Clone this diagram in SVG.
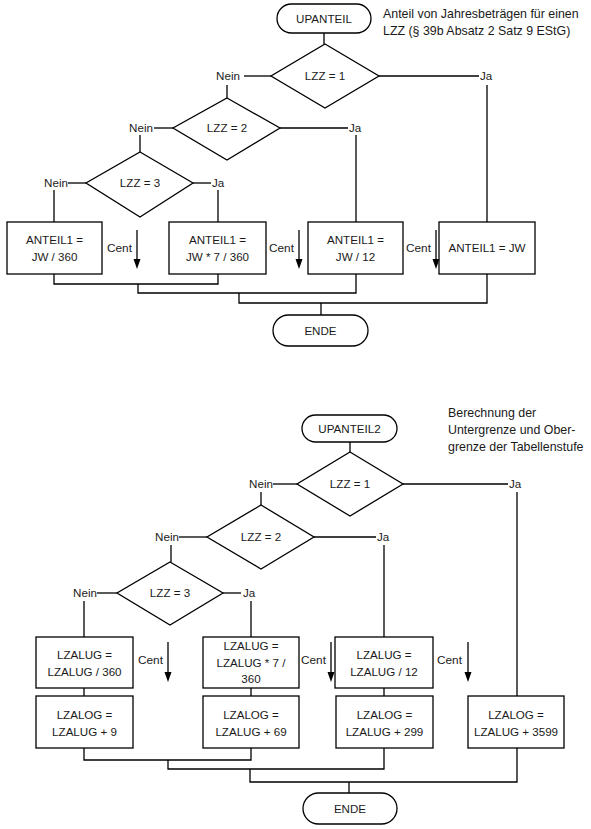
<svg xmlns="http://www.w3.org/2000/svg" width="591" height="829" viewBox="0 0 591 829">
<style>
.s{fill:#fff;stroke:#000;stroke-width:1.3}
.c{fill:none;stroke:#000;stroke-width:1.3}
text{font-family:"Liberation Sans",Arial,sans-serif;font-size:11.6px;fill:#1a1a1a}
.m{text-anchor:middle}
.n{font-size:12.4px}
.k{font-size:11.8px}
</style>

<!-- ===== TOP FLOWCHART ===== -->
<g id="upanteil"><rect class="s" x="277" y="4" width="94" height="29" rx="14.5"/><text class="m" x="324" y="22.5">UPANTEIL</text></g>
<g id="note1"><text class="n" x="383" y="18">Anteil von Jahresbeträgen für einen</text><text class="n" x="383" y="35">LZZ (§ 39b Absatz 2 Satz 9 EStG)</text></g>
<g id="d1"><polygon class="s" points="325,44 379,76 325,108 271,76"/><text class="m" x="325" y="80">LZZ = 1</text></g>
<g id="d2"><polygon class="s" points="227,98 280,128 227,160 173,128"/><text class="m" x="227" y="132">LZZ = 2</text></g>
<g id="d3"><polygon class="s" points="140,152 193,183 140,217 86,183"/><text class="m" x="140" y="187">LZZ = 3</text></g>
<g id="b1"><rect class="s" x="7" y="222" width="95" height="52"/><text class="m" x="54.5" y="244">ANTEIL1 =</text><text class="m" x="54.5" y="261">JW / 360</text></g>
<g id="b2"><rect class="s" x="169" y="222" width="97" height="52"/><text class="m" x="217.5" y="244">ANTEIL1 =</text><text class="m" x="217.5" y="261">JW * 7 / 360</text></g>
<g id="b3"><rect class="s" x="308" y="222" width="95" height="52"/><text class="m" x="355.5" y="244">ANTEIL1 =</text><text class="m" x="355.5" y="261">JW / 12</text></g>
<g id="b4"><rect class="s" x="439" y="222" width="96" height="52"/><text class="m" x="487" y="252">ANTEIL1 = JW</text></g>
<g id="ende1"><rect class="s" x="273" y="315" width="95" height="31" rx="15.5"/><text class="m" x="320.5" y="335">ENDE</text></g>

<!-- ===== BOTTOM FLOWCHART ===== -->
<g id="upanteil2"><rect class="s" x="302" y="415" width="95" height="27" rx="13.5"/><text class="m" x="349.5" y="433">UPANTEIL2</text></g>
<g id="note2"><text class="n" x="448" y="417">Berechnung der</text><text class="n" x="448" y="434">Untergrenze und Ober-</text><text class="n" x="448" y="451">grenze der Tabellenstufe</text></g>
<g id="e1"><polygon class="s" points="350,452 403,484 350,516 297,484"/><text class="m" x="350" y="488">LZZ = 1</text></g>
<g id="e2"><polygon class="s" points="261,505 314,537 261,569 207,537"/><text class="m" x="261" y="541">LZZ = 2</text></g>
<g id="e3"><polygon class="s" points="170,562 223,593 170,625 117,593"/><text class="m" x="170" y="597">LZZ = 3</text></g>
<g id="r1"><rect class="s" x="36" y="637" width="97" height="51"/><text class="m" x="84.5" y="659">LZALUG =</text><text class="m" x="84.5" y="676">LZALUG / 360</text></g>
<g id="r2"><rect class="s" x="203" y="637" width="96" height="51"/><text class="m" x="251" y="650">LZALUG =</text><text class="m" x="251" y="666.5">LZALUG * 7 /</text><text class="m" x="251" y="683">360</text></g>
<g id="r3"><rect class="s" x="335" y="637" width="98" height="51"/><text class="m" x="384" y="659">LZALUG =</text><text class="m" x="384" y="676">LZALUG / 12</text></g>
<g id="s1"><rect class="s" x="36" y="696" width="97" height="52"/><text class="m" x="84.5" y="719">LZALOG =</text><text class="m" x="84.5" y="736">LZALUG + 9</text></g>
<g id="s2"><rect class="s" x="203" y="696" width="96" height="52"/><text class="m" x="251" y="719">LZALOG =</text><text class="m" x="251" y="736">LZALUG + 69</text></g>
<g id="s3"><rect class="s" x="336" y="696" width="97" height="52"/><text class="m" x="384.5" y="719">LZALOG =</text><text class="m" x="384.5" y="736">LZALUG + 299</text></g>
<g id="s4"><rect class="s" x="468" y="696" width="96" height="52"/><text class="m" x="516" y="719">LZALOG =</text><text class="m" x="516" y="736">LZALUG + 3599</text></g>
<g id="ende2"><rect class="s" x="303" y="793" width="94" height="31" rx="15.5"/><text class="m" x="350" y="813">ENDE</text></g>

<!-- ===== CONNECTORS ===== -->
<g id="connectors">
<g class="c">
<path d="M324,33 V44"/>
<path d="M271,76 H244"/><path d="M227,85 V98"/>
<path d="M379,76 H479"/><path d="M487,85 V222"/>
<path d="M173,128 H154"/><path d="M140,135 V152"/>
<path d="M280,128 H348"/><path d="M356,135 V222"/>
<path d="M86,183 H68"/><path d="M54,190 V222"/>
<path d="M193,183 H211"/><path d="M218,190 V222"/>
<path d="M54,274 V284 H218 V274"/>
<path d="M138,284 V293 H356 V274"/>
<path d="M239,293 V303 H487 V274"/>
<path d="M321,303 V315"/>
<path d="M350,442 V452"/>
<path d="M297,484 H273"/><path d="M261,492 V505"/>
<path d="M403,484 H508"/><path d="M517,492 V696"/>
<path d="M207,537 H179"/><path d="M171,545 V562"/>
<path d="M314,537 H376"/><path d="M384,545 V637"/>
<path d="M117,593 H97"/><path d="M84,601 V637"/>
<path d="M223,593 H241"/><path d="M251,601 V637"/>
<path d="M84,688 V696"/><path d="M251,688 V696"/><path d="M384,688 V696"/>
<path d="M84,748 V760 H251 V748"/>
<path d="M168,760 V769 H384 V748"/>
<path d="M250,769 V782 H517 V748"/>
<path d="M349,782 V793"/>
</g>
<g class="c">
<path d="M137,230 V260"/><path d="M299,230 V260"/><path d="M436,230 V260"/>
<path d="M168,642 V673"/><path d="M331,642 V673"/><path d="M468,642 V673"/>
</g>
<g fill="#000">
<polygon points="133.5,259 140.5,259 137,269"/><polygon points="295.5,259 302.5,259 299,269"/><polygon points="432.5,259 439.5,259 436,269"/>
<polygon points="164.5,672 171.5,672 168,682"/><polygon points="327.5,672 334.5,672 331,682"/><polygon points="464.5,672 471.5,672 468,682"/>
</g>
<text class="m" x="228" y="80">Nein</text><text x="480" y="80">Ja</text>
<text class="m" x="141" y="132">Nein</text><text x="349" y="132">Ja</text>
<text class="m" x="56" y="187">Nein</text><text x="212" y="187">Ja</text>
<text class="k" x="107" y="252">Cent</text><text class="k" x="269" y="252">Cent</text><text class="k" x="406" y="252">Cent</text>
<text class="m" x="261" y="488">Nein</text><text x="509" y="488">Ja</text>
<text class="m" x="167" y="541">Nein</text><text x="377" y="541">Ja</text>
<text class="m" x="85" y="597">Nein</text><text x="243" y="597">Ja</text>
<text class="k" x="138" y="664">Cent</text><text class="k" x="301" y="664">Cent</text><text class="k" x="437" y="664">Cent</text>
</g>
</svg>
